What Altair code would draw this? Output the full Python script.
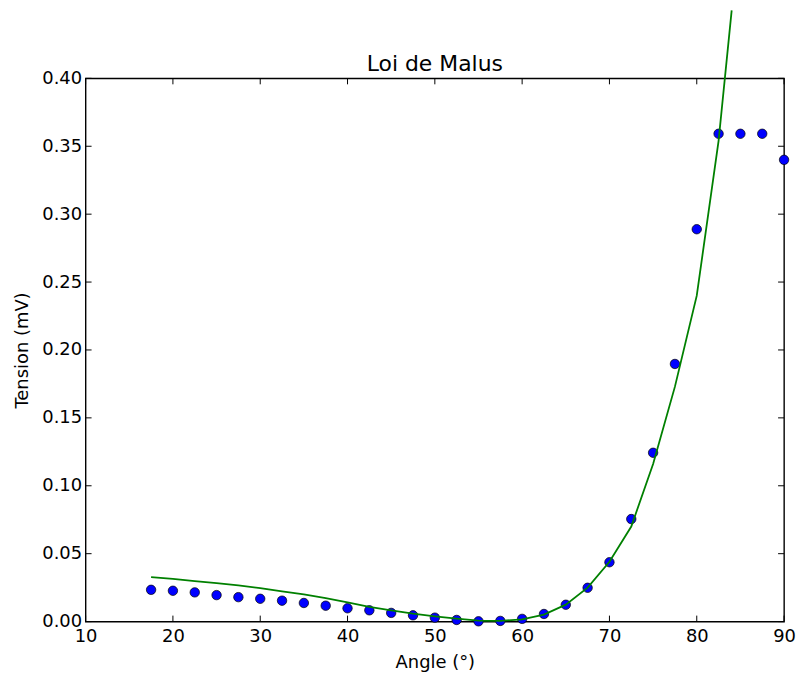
import altair as alt
import pandas as pd

# Measured data (Angle in degrees, Tension in mV)
angles = [17.5, 20, 22.5, 25, 27.5, 30, 32.5, 35, 37.5, 40,
          42.5, 45, 47.5, 50, 52.5, 55, 57.5, 60, 62.5, 65,
          67.5, 70, 72.5, 75, 77.5, 80, 82.5, 85, 87.5, 90]
tension = [0.0234, 0.0227, 0.0215, 0.0195, 0.0180, 0.0168, 0.0154, 0.0137, 0.0117, 0.0098,
           0.0083, 0.0064, 0.0046, 0.0029, 0.0012, 0.0002, 0.0005, 0.0020, 0.0056, 0.0124,
           0.0249, 0.0437, 0.0755, 0.1243, 0.1897, 0.2889, 0.3592, 0.3592, 0.3592, 0.3400]

# Fitted curve
fit_angles = [17.5, 20, 22.5, 25, 27.5, 30, 32.5, 35, 37.5, 40,
              42.5, 45, 47.5, 50, 52.5, 55, 57.5, 60, 62.5, 65,
              67.5, 70, 72.5, 75, 77.5, 80, 82.5, 84.0]
fit_values = [0.0327, 0.0315, 0.0298, 0.0283, 0.0266, 0.0247, 0.0222, 0.0200, 0.0173, 0.0142,
              0.0108, 0.0083, 0.0059, 0.0039, 0.0022, 0.0007, 0.0005, 0.0017, 0.0051, 0.0125,
              0.0250, 0.0440, 0.0700, 0.1160, 0.1730, 0.2400, 0.3540, 0.4500]

x_ticks = [10, 20, 30, 40, 50, 60, 70, 80, 90]
y_ticks = [0.0, 0.05, 0.10, 0.15, 0.20, 0.25, 0.30, 0.35, 0.40]
title_text = ["Loi de Malus"]

W, H = 702, 546
TL = 6

pts = pd.DataFrame({"angle": angles, "tension": tension})
fit = pd.DataFrame({"angle": fit_angles, "tension": fit_values})
xt = pd.DataFrame({"angle": x_ticks})
yt = pd.DataFrame({"tension": y_ticks})
tt = pd.DataFrame({"label": title_text})

xs = alt.Scale(domain=[10, 90], nice=False, zero=False)
ys = alt.Scale(domain=[0, 0.4], nice=False, zero=True)

x_axis = alt.Axis(values=x_ticks, format="d", ticks=False, domain=False, grid=False,
                  labelFontSize=18, labelPadding=6, labelColor="black",
                  labelFlush=False, labelOverlap=False,
                  title="Angle (°)", titleFontSize=18, titleFontWeight="normal",
                  titleColor="black", titlePadding=8)
y_axis = alt.Axis(values=y_ticks, format=".2f", ticks=False, domain=False, grid=False,
                  labelFontSize=18, labelPadding=4, labelColor="black",
                  labelFlush=False, labelOverlap=False,
                  title="Tension (mV)", titleFontSize=18, titleFontWeight="normal",
                  titleColor="black", titlePadding=10)

X = alt.X("angle:Q", scale=xs, axis=x_axis, title="Angle (°)")
Y = alt.Y("tension:Q", scale=ys, axis=y_axis, title="Tension (mV)")

points = alt.Chart(pts).mark_circle(size=90, color="#0000ff", opacity=1,
                                    stroke="black", strokeWidth=0.7).encode(x=X, y=Y)

line = alt.Chart(fit).mark_line(color="#008000", strokeWidth=1.8, clip=False).encode(x=X, y=Y)

tick_style = dict(color="black", strokeWidth=1)
xb = alt.Chart(xt).mark_rule(**tick_style).encode(
    x=X, y=alt.value(H - TL), y2=alt.value(H))
xtop = alt.Chart(xt).mark_rule(**tick_style).encode(
    x=X, y=alt.value(0), y2=alt.value(TL))
yl = alt.Chart(yt).mark_rule(**tick_style).encode(
    y=Y, x=alt.value(0), x2=alt.value(TL))
yr = alt.Chart(yt).mark_rule(**tick_style).encode(
    y=Y, x=alt.value(W - TL), x2=alt.value(W))

title = alt.Chart(tt).mark_text(fontSize=22, color="black", align="center",
                                baseline="alphabetic").encode(
    text="label:N", x=alt.value(W / 2), y=alt.value(-7))

chart = alt.layer(xb, xtop, yl, yr, points, line, title).properties(
    width=W, height=H,
    padding={"left": 78, "top": 69, "right": 12, "bottom": 56},
    autosize=alt.AutoSizeParams(type="none"),
).configure(font="DejaVu Sans").configure_view(stroke="black", strokeWidth=1.4)

chart.save("out.html", embed_options={"renderer": "svg", "actions": False})
